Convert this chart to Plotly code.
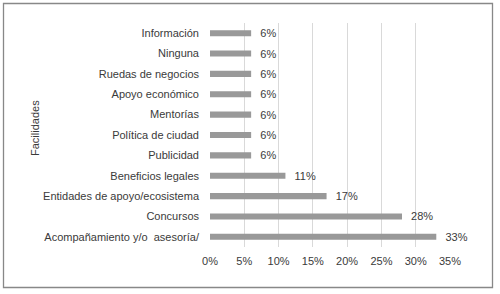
import plotly.graph_objects as go

categories = ["Información", "Ninguna", "Ruedas de negocios", "Apoyo económico",
              "Mentorías", "Política de ciudad", "Publicidad", "Beneficios legales",
              "Entidades de apoyo/ecosistema", "Concursos", "Acompañamiento y/o\u00a0 asesoría/"]
values = [0.06, 0.06, 0.06, 0.06, 0.06, 0.06, 0.06, 0.11, 0.17, 0.28, 0.33]
x_ticks = [0, 0.05, 0.10, 0.15, 0.20, 0.25, 0.30, 0.35]
x_ticktext = ["0%", "5%", "10%", "15%", "20%", "25%", "30%", "35%"]

W, H = 500, 294
L, R, T, B = 210, 50, 23, 47
pw, ph = W - L - R, H - T - B

font = dict(family="Liberation Sans, Arial, sans-serif", size=11, color="#3a3a3a")

fig = go.Figure(go.Bar(
    y=categories, x=values, orientation="h",
    marker=dict(color="#999999", line=dict(width=0)),
    width=0.3,
    text=["  " + f"{v*100:.0f}%" for v in values],
    textposition="outside",
    constraintext="none",
    textfont=font,
    cliponaxis=False,
))

fig.update_layout(
    width=W, height=H,
    margin=dict(l=L, r=R, t=T, b=B, autoexpand=False),
    paper_bgcolor="white", plot_bgcolor="white",
    font=font,
    showlegend=False,
    bargap=0.7,
    xaxis=dict(range=[0, 0.35], tickvals=x_ticks, ticktext=x_ticktext,
               showgrid=True, gridcolor="#d9d9d9", gridwidth=1,
               zeroline=False, showline=False, ticks="", ticklabelstandoff=6,
               tickfont=font, fixedrange=True),
    yaxis=dict(autorange="reversed", showgrid=False, zeroline=False, showline=False,
               ticks="", ticklabelstandoff=10, tickfont=font, fixedrange=True),
    annotations=[dict(text="Facilidades", xref="paper", yref="paper",
                      x=(35 - L) / pw, y=(H - B - 128) / ph, textangle=-90, showarrow=False,
                      font=font, xanchor="center", yanchor="middle")],
    shapes=[dict(type="rect", xref="paper", yref="paper",
                 x0=(3.5 - L) / pw, x1=(492.5 - L) / pw,
                 y0=(H - B - 287.5) / ph, y1=(H - B - 3.5) / ph,
                 line=dict(color="#888888", width=1.3), fillcolor="rgba(0,0,0,0)",
                 layer="above")],
)

fig.write_html("out.html", config={"displayModeBar": False},
               post_script="document.body.style.margin='0';document.body.style.overflow='hidden';")
